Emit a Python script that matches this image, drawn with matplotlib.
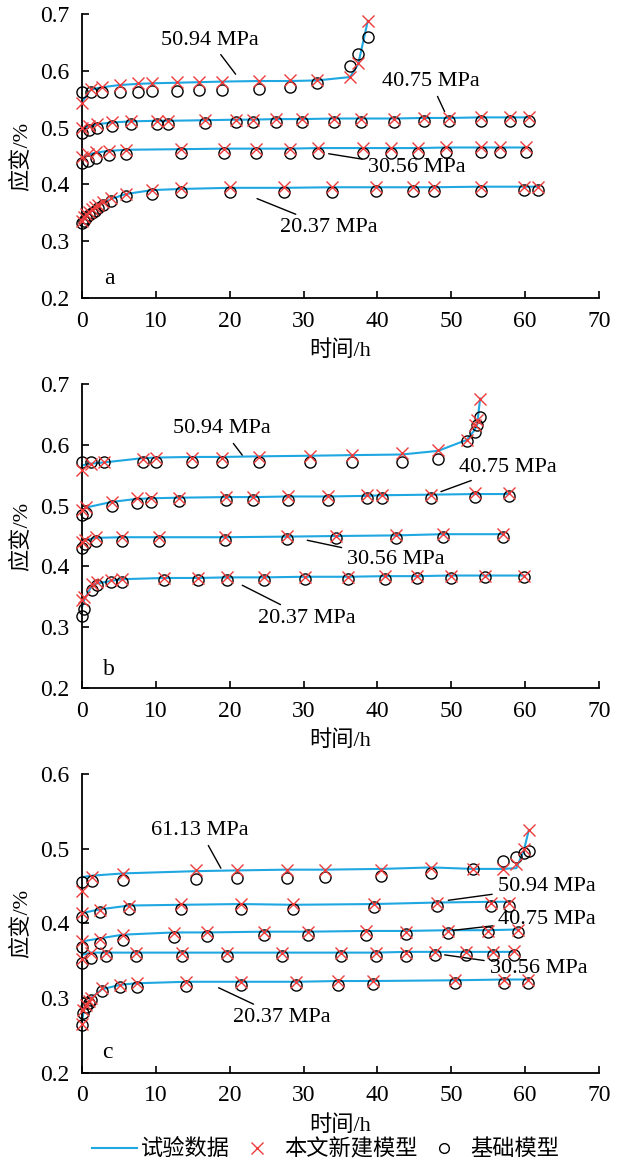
import matplotlib
matplotlib.use('Agg')
import matplotlib.pyplot as plt
from matplotlib.lines import Line2D
from matplotlib.ticker import FormatStrFormatter

plt.rcParams['font.family'] = ['Liberation Serif', 'Noto Sans CJK SC']
plt.rcParams['font.size'] = 16

# ---- panel a ----
a1_t = [0, 0.3, 0.6, 1.0, 1.3, 1.7, 2.2, 2.8, 3.9, 5.9, 9.5, 13.4, 20.0, 27.4, 33.9, 39.8, 44.8, 47.6, 54.0, 59.9, 61.8]
a1_exp = [0.334, 0.340, 0.346, 0.350, 0.354, 0.358, 0.362, 0.367, 0.374, 0.383, 0.390, 0.392, 0.394, 0.394, 0.395, 0.395, 0.395, 0.395, 0.396, 0.396, 0.396]
a1_new = [0.336, 0.342, 0.348, 0.352, 0.356, 0.360, 0.364, 0.369, 0.376, 0.384, 0.391, 0.393, 0.395, 0.395, 0.396, 0.396, 0.396, 0.396, 0.396, 0.396, 0.396]
a1_base = [0.332, 0.336, 0.341, 0.346, 0.350, 0.354, 0.358, 0.364, 0.371, 0.379, 0.384, 0.386, 0.387, 0.387, 0.387, 0.388, 0.388, 0.388, 0.389, 0.390, 0.390]

a2_t = [0, 0.75, 1.9, 3.6, 5.9, 13.4, 19.2, 23.5, 28.1, 32.0, 38.0, 41.8, 45.5, 49.3, 54.0, 56.6, 60.1]
a2_exp = [0.446, 0.452, 0.456, 0.459, 0.461, 0.462, 0.463, 0.463, 0.463, 0.464, 0.464, 0.464, 0.464, 0.465, 0.465, 0.465, 0.465]
a2_new = [0.449, 0.453, 0.457, 0.459, 0.461, 0.462, 0.463, 0.463, 0.463, 0.464, 0.464, 0.464, 0.464, 0.465, 0.465, 0.465, 0.465]
a2_base = [0.438, 0.442, 0.447, 0.451, 0.454, 0.455, 0.455, 0.455, 0.456, 0.456, 0.456, 0.456, 0.456, 0.457, 0.457, 0.457, 0.457]

a3_t = [0, 0.9, 2.0, 4.1, 6.7, 10.1, 11.7, 16.7, 20.9, 23.1, 26.2, 29.8, 34.1, 37.8, 42.2, 46.3, 49.7, 54.0, 57.9, 60.5]
a3_exp = [0.497, 0.502, 0.506, 0.509, 0.511, 0.512, 0.512, 0.513, 0.514, 0.514, 0.515, 0.515, 0.516, 0.516, 0.516, 0.517, 0.517, 0.518, 0.518, 0.518]
a3_new = [0.499, 0.503, 0.506, 0.509, 0.511, 0.512, 0.512, 0.513, 0.514, 0.514, 0.515, 0.515, 0.515, 0.516, 0.516, 0.517, 0.517, 0.518, 0.518, 0.518]
a3_base = [0.491, 0.496, 0.500, 0.503, 0.506, 0.506, 0.506, 0.508, 0.509, 0.509, 0.510, 0.510, 0.510, 0.510, 0.510, 0.511, 0.511, 0.512, 0.512, 0.512]

a4_t = [0, 1.2, 2.7, 5.1, 7.6, 9.5, 12.8, 15.9, 18.9, 23.9, 28.1, 31.8, 36.3, 37.4, 38.7]
a4_exp = [0.545, 0.567, 0.571, 0.575, 0.577, 0.578, 0.579, 0.580, 0.581, 0.582, 0.582, 0.583, 0.589, 0.612, 0.688]
a4_new = [0.543, 0.568, 0.571, 0.575, 0.578, 0.578, 0.580, 0.580, 0.581, 0.582, 0.583, 0.584, 0.589, 0.613, 0.688]
a4_base = [0.562, 0.562, 0.562, 0.563, 0.563, 0.564, 0.565, 0.566, 0.567, 0.568, 0.571, 0.578, 0.609, 0.630, 0.659]

# ---- panel b ----
b1_t = [0, 0.3, 1.3, 2.0, 3.9, 5.4, 11.1, 15.7, 19.6, 24.7, 30.2, 36.0, 41.0, 45.3, 49.9, 54.6, 59.8]
b1_exp = [0.333, 0.345, 0.368, 0.372, 0.376, 0.379, 0.381, 0.381, 0.382, 0.382, 0.383, 0.383, 0.384, 0.384, 0.385, 0.385, 0.385]
b1_new = [0.344, 0.350, 0.371, 0.374, 0.377, 0.379, 0.381, 0.381, 0.382, 0.382, 0.383, 0.383, 0.385, 0.385, 0.385, 0.385, 0.385]
b1_base = [0.319, 0.330, 0.362, 0.369, 0.374, 0.375, 0.377, 0.377, 0.377, 0.378, 0.379, 0.380, 0.380, 0.381, 0.381, 0.382, 0.382]

b2_t = [0, 0.4, 1.9, 5.4, 10.4, 19.3, 27.7, 34.4, 42.5, 48.9, 57.0]
b2_exp = [0.437, 0.443, 0.447, 0.448, 0.448, 0.448, 0.449, 0.450, 0.451, 0.453, 0.453]
b2_new = [0.440, 0.444, 0.448, 0.448, 0.448, 0.448, 0.450, 0.450, 0.451, 0.454, 0.454]
b2_base = [0.430, 0.437, 0.441, 0.441, 0.442, 0.443, 0.445, 0.446, 0.447, 0.448, 0.449]

b3_t = [0, 0.6, 4.0, 7.4, 9.3, 13.1, 19.5, 23.2, 27.9, 33.3, 38.6, 40.6, 47.2, 53.2, 57.8]
b3_exp = [0.492, 0.497, 0.506, 0.511, 0.512, 0.513, 0.514, 0.514, 0.515, 0.515, 0.516, 0.517, 0.518, 0.519, 0.519]
b3_new = [0.492, 0.498, 0.506, 0.512, 0.513, 0.513, 0.514, 0.514, 0.515, 0.516, 0.517, 0.517, 0.518, 0.520, 0.520]
b3_base = [0.484, 0.488, 0.499, 0.505, 0.506, 0.507, 0.509, 0.509, 0.510, 0.510, 0.512, 0.513, 0.513, 0.514, 0.515]

b4_t = [0, 1.2, 3.0, 8.2, 10.0, 14.9, 19.0, 24.0, 30.9, 36.6, 43.3, 48.2, 52.1, 53.2, 53.5, 53.9]
b4_exp = [0.566, 0.569, 0.571, 0.578, 0.579, 0.580, 0.580, 0.581, 0.582, 0.583, 0.584, 0.590, 0.608, 0.625, 0.633, 0.676]
b4_new = [0.558, 0.568, 0.572, 0.577, 0.578, 0.579, 0.579, 0.580, 0.582, 0.583, 0.587, 0.591, 0.608, 0.632, 0.640, 0.676]
b4_base = [0.572, 0.572, 0.572, 0.571, 0.571, 0.571, 0.571, 0.571, 0.571, 0.571, 0.572, 0.576, 0.607, 0.621, 0.632, 0.645]

# ---- panel c ----
c1_t = [0, 0.2, 0.5, 0.9, 1.2, 2.7, 5.2, 7.4, 14.1, 21.5, 29.0, 34.7, 39.4, 50.5, 57.2, 60.4]
c1_exp = [0.268, 0.282, 0.290, 0.295, 0.300, 0.312, 0.318, 0.320, 0.322, 0.322, 0.322, 0.323, 0.323, 0.324, 0.325, 0.325]
c1_new = [0.265, 0.284, 0.291, 0.296, 0.300, 0.313, 0.318, 0.320, 0.322, 0.322, 0.322, 0.323, 0.323, 0.324, 0.325, 0.325]
c1_base = [0.264, 0.280, 0.288, 0.293, 0.297, 0.310, 0.315, 0.315, 0.317, 0.318, 0.318, 0.318, 0.319, 0.320, 0.321, 0.321]

c2_t = [0, 1.2, 3.2, 7.3, 13.5, 19.6, 27.1, 35.1, 39.8, 43.9, 47.8, 52.0, 55.7, 58.5]
c2_exp = [0.358, 0.361, 0.361, 0.361, 0.361, 0.361, 0.361, 0.361, 0.361, 0.362, 0.362, 0.362, 0.362, 0.362]
c2_new = [0.352, 0.360, 0.361, 0.361, 0.361, 0.361, 0.361, 0.361, 0.361, 0.361, 0.362, 0.362, 0.362, 0.363]
c2_base = [0.347, 0.354, 0.356, 0.357, 0.357, 0.357, 0.357, 0.357, 0.357, 0.357, 0.358, 0.358, 0.358, 0.358]

c3_t = [0, 2.4, 5.5, 12.4, 16.9, 24.6, 30.6, 38.4, 43.9, 49.6, 55.0, 59.1]
c3_exp = [0.376, 0.380, 0.385, 0.388, 0.388, 0.389, 0.389, 0.390, 0.390, 0.391, 0.391, 0.392]
c3_new = [0.376, 0.379, 0.385, 0.387, 0.388, 0.389, 0.389, 0.390, 0.389, 0.390, 0.390, 0.391]
c3_base = [0.369, 0.374, 0.378, 0.382, 0.383, 0.384, 0.385, 0.385, 0.386, 0.387, 0.388, 0.388]

c4_t = [0, 2.5, 6.4, 13.4, 21.5, 28.6, 39.6, 48.0, 55.4, 57.8]
c4_exp = [0.414, 0.419, 0.424, 0.425, 0.426, 0.425, 0.426, 0.428, 0.429, 0.429]
c4_new = [0.414, 0.418, 0.424, 0.426, 0.426, 0.426, 0.426, 0.428, 0.427, 0.427]
c4_base = [0.409, 0.415, 0.419, 0.419, 0.420, 0.420, 0.422, 0.423, 0.424, 0.424]

c5_t = [0, 1.4, 5.6, 15.4, 21.0, 27.7, 32.9, 40.5, 47.3, 52.9, 57.0, 58.8, 59.8, 60.5]
c5_exp = [0.462, 0.464, 0.467, 0.470, 0.471, 0.472, 0.472, 0.473, 0.475, 0.473, 0.473, 0.474, 0.497, 0.525]
c5_new = [0.444, 0.462, 0.466, 0.471, 0.472, 0.472, 0.472, 0.472, 0.474, 0.473, 0.473, 0.480, 0.499, 0.525]
c5_base = [0.456, 0.457, 0.458, 0.459, 0.461, 0.461, 0.462, 0.464, 0.467, 0.473, 0.484, 0.489, 0.494, 0.497]

# 标注: (文字, 文字中心, 引线端点)
labels_a = [('50.94 MPa', (17.3, 0.654), (20.8, 0.594)),
            ('40.75 MPa', (47.2, 0.581), (49.1, 0.528)),
            ('30.56 MPa', (45.3, 0.429), (33.4, 0.454)),
            ('20.37 MPa', (33.4, 0.324), (23.7, 0.375))]
labels_b = [('50.94 MPa', (19.0, 0.626), (21.7, 0.583)),
            ('40.75 MPa', (57.6, 0.563), (48.6, 0.523)),
            ('30.56 MPa', (42.5, 0.412), (30.5, 0.443)),
            ('20.37 MPa', (30.5, 0.315), (21.7, 0.369))]
labels_c = [('61.13 MPa', (16.0, 0.524), (18.8, 0.474)),
            ('50.94 MPa', (62.9, 0.449), (49.6, 0.431)),
            ('40.75 MPa', (63.0, 0.405), (50.4, 0.391)),
            ('30.56 MPa', (61.8, 0.340), (49.1, 0.358)),
            ('20.37 MPa', (27.1, 0.274), (18.5, 0.314))]

LINE_C = '#1ea7e1'
CROSS_C = '#ee3b3b'

W, H = 621, 1166
fig = plt.figure(figsize=(W / 100, H / 100), dpi=100)

panels = [
    ('a', 0.7444, 0.2436, (0.2, 0.7), [(a1_t, a1_exp, a1_new, a1_base), (a2_t, a2_exp, a2_new, a2_base),
                                       (a3_t, a3_exp, a3_new, a3_base), (a4_t, a4_exp, a4_new, a4_base)],
     labels_a, (3.7, 0.235)),
    ('b', 0.4099, 0.2608, (0.2, 0.7), [(b1_t, b1_exp, b1_new, b1_base), (b2_t, b2_exp, b2_new, b2_base),
                                       (b3_t, b3_exp, b3_new, b3_base), (b4_t, b4_exp, b4_new, b4_base)],
     labels_b, (3.6, 0.230)),
    ('c', 0.0798, 0.2564, (0.2, 0.6), [(c1_t, c1_exp, c1_new, c1_base), (c2_t, c2_exp, c2_new, c2_base),
                                       (c3_t, c3_exp, c3_new, c3_base), (c4_t, c4_exp, c4_new, c4_base),
                                       (c5_t, c5_exp, c5_new, c5_base)],
     labels_c, (3.5, 0.228)),
]

for letter, bottom, height, ylim, curves, labels, letter_pos in panels:
    ax = fig.add_axes([82 / W, bottom, 517 / W, height])
    for t, exp, new, base in curves:
        ax.plot(t, exp, color=LINE_C, lw=1.5, zorder=2, clip_on=False)
        ax.plot(t, base, ls='none', marker='o', ms=8, mfc='none', mec='black', mew=1.0, zorder=3, clip_on=False)
        ax.plot(t, new, ls='none', marker='x', ms=8, color=CROSS_C, mew=1.0, zorder=4, clip_on=False)
    for txt, xyt, xy in labels:
        ax.annotate(txt, xy=xy, xytext=xyt, ha='center', va='center', fontsize=16,
                    arrowprops=dict(arrowstyle='-', color='black', lw=1.0, shrinkB=0))
    ax.text(letter_pos[0], letter_pos[1], letter, fontsize=17, ha='center', va='center')
    ax.set_xlim(0, 70)
    ax.set_ylim(*ylim)
    ax.set_xticks(range(0, 71, 10))
    ax.yaxis.set_major_formatter(FormatStrFormatter('%.1f'))
    ax.spines['top'].set_visible(False)
    ax.spines['right'].set_visible(False)
    for s in ('left', 'bottom'):
        ax.spines[s].set_linewidth(1.3)
    ax.tick_params(direction='in', length=5, width=1.2, labelsize=17, pad=9)
    ax.set_xlabel('时间/h', fontsize=16, labelpad=6)
    ax.set_ylabel('应变/%', fontsize=16, labelpad=6)

handles = [Line2D([], [], color=LINE_C, lw=1.5),
           Line2D([], [], ls='none', marker='x', ms=8, color=CROSS_C, mew=1.0),
           Line2D([], [], ls='none', marker='o', ms=7, mfc='none', mec='black', mew=1.0)]
fig.legend(handles, ['试验数据', '本文新建模型', '基础模型'], loc='center', bbox_to_anchor=(0.525, 0.014),
           ncol=3, frameon=False, fontsize=16, handlelength=2.0, handletextpad=0.2, columnspacing=0.2)

fig.savefig('out.png', dpi=100)
